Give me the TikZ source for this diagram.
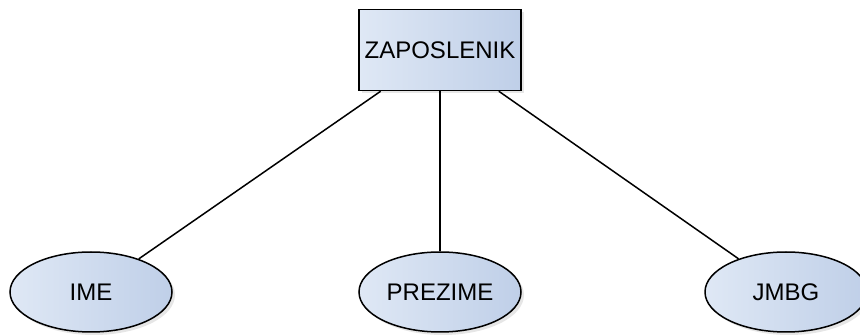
\documentclass[tikz,border=0pt]{standalone}
\usepackage{fontspec}
\setmainfont{Liberation Sans}
\usetikzlibrary{shapes.geometric,shadows}

\definecolor{fillleft}{HTML}{DFE8F5}
\definecolor{fillright}{HTML}{BFCFE8}

\begin{document}
\begin{tikzpicture}[x=1pt, y=-1pt]

    \useasboundingbox (0,0) rectangle (860,336);

    \tikzset{
        entity/.style={
            draw, line width=1.5pt, rectangle,
            left color=fillleft, right color=fillright,
            drop shadow={opacity=0.2, shadow xshift=3pt, shadow yshift=-3pt},
            minimum width=162pt, minimum height=81pt, inner sep=0pt,
            font=\fontsize{24}{28}\selectfont
        },
        attribute/.style={
            entity, ellipse,
            minimum width=162pt, minimum height=80pt
        },
        link/.style={line width=1.5pt}
    }

    % entity
    \node[entity] (zaposlenik) at (440,50) {ZAPOSLENIK};

    % attributes
    \node[attribute] (ime) at (91,292) {IME};
    \node[attribute] (prezime) at (440,292) {PREZIME};
    \node[attribute] (jmbg) at (786,292) {JMBG};

    % links
    \draw[link]
        (zaposlenik) --
        (ime);

    \draw[link]
        (zaposlenik) --
        (prezime);

    \draw[link]
        (zaposlenik) --
        (jmbg);

\end{tikzpicture}
\end{document}
